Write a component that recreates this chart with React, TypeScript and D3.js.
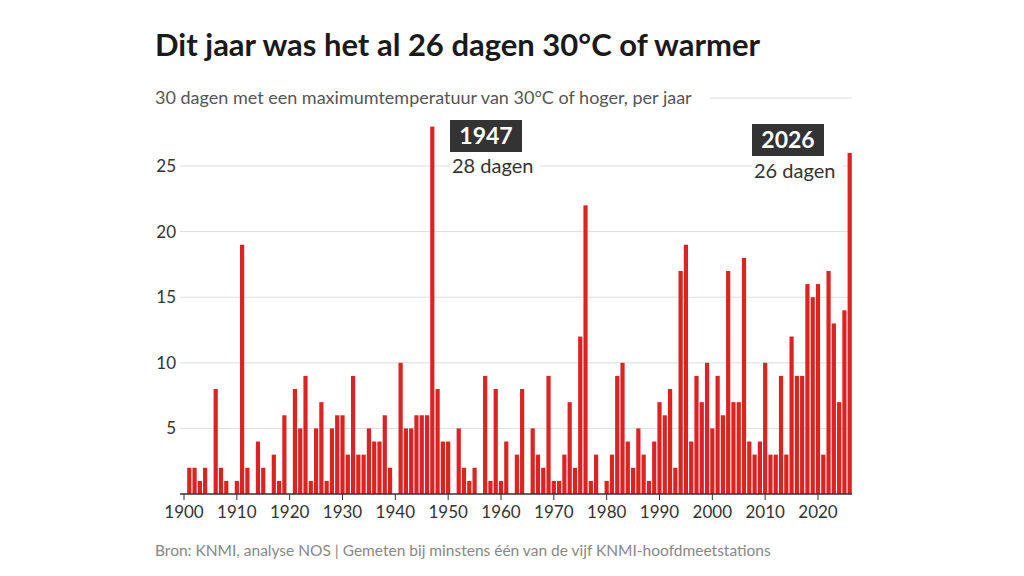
import React from 'react';
import * as d3 from 'd3';

const years = d3.range(1900, 2027);
const values = [
  0, 2, 2, 1, 2, 0, 8, 2, 1, 0,
  1, 19, 2, 0, 4, 2, 0, 3, 1, 6,
  0, 8, 5, 9, 1, 5, 7, 1, 5, 6,
  6, 3, 9, 3, 3, 5, 4, 4, 6, 2,
  0, 10, 5, 5, 6, 6, 6, 28, 8, 4,
  4, 0, 5, 2, 1, 2, 0, 9, 1, 8,
  1, 4, 0, 3, 8, 0, 5, 3, 2, 9,
  1, 1, 3, 7, 2, 12, 22, 1, 3, 0,
  1, 3, 9, 10, 4, 2, 5, 3, 1, 4,
  7, 6, 8, 2, 17, 19, 4, 9, 7, 10,
  5, 9, 6, 17, 7, 7, 18, 4, 3, 4,
  10, 3, 3, 9, 3, 12, 9, 9, 16, 15,
  16, 3, 17, 13, 7, 14, 26,
];
const yTicks = [5, 10, 15, 20, 25];
const xTicks = d3.range(1900, 2021, 10);

const font = 'Lato, "Open Sans", sans-serif';

const App: React.FC = () => {
  const x = d3.scaleLinear().domain([1900, 2020]).range([184, 818]);
  const y = d3.scaleLinear().domain([0, 25]).range([494, 166]);
  const bw = 4.2;

  return (
    <svg width={1024} height={576} style={{ position: 'absolute', left: 0, top: 0, background: '#fff' }} fontFamily={font}>
      <text x={155} y={56} fontSize={31} fontWeight={700} fill="#1a1a1a">Dit jaar was het al 26 dagen 30°C of warmer</text>
      <text x={155} y={104} fontSize={18} fill="#555">30 dagen met een maximumtemperatuur van 30°C of hoger, per jaar</text>
      <line x1={710} x2={852} y1={98} y2={98} stroke="#ddd" />
      {yTicks.map(t => (
        <g key={t}>
          <line x1={180} x2={852} y1={y(t)} y2={y(t)} stroke="#ddd" />
          <text x={176} y={y(t) + 6} fontSize={17} fill="#333" textAnchor="end">{t}</text>
        </g>
      ))}
      {years.map((yr, i) => values[i] > 0 && (
        <rect key={yr} x={x(yr) - bw / 2} width={bw} y={y(values[i])} height={y(0) - y(values[i])} fill="#dd2222" />
      ))}
      <line x1={180} x2={852} y1={494} y2={494} stroke="#333" strokeWidth={1.5} />
      {xTicks.map(t => (
        <g key={t}>
          <line x1={x(t)} x2={x(t)} y1={494} y2={500} stroke="#333" />
          <text x={x(t)} y={518} fontSize={17} fill="#333" textAnchor="middle">{t}</text>
        </g>
      ))}
      <rect x={450} y={120} width={72} height={32} fill="#333" />
      <text x={486} y={144} fontSize={23} fontWeight={700} fill="#fff" textAnchor="middle">1947</text>
      <rect x={450} y={154} width={90} height={24} fill="#fff" />
      <text x={452} y={173} fontSize={20} fill="#333">28 dagen</text>
      <rect x={752} y={124} width={72} height={32} fill="#333" />
      <text x={788} y={148} fontSize={23} fontWeight={700} fill="#fff" textAnchor="middle">2026</text>
      <rect x={752} y={159} width={90} height={24} fill="#fff" />
      <text x={754} y={178} fontSize={20} fill="#333">26 dagen</text>
      <text x={155} y={556} fontSize={15.5} fill="#888">Bron: KNMI, analyse NOS | Gemeten bij minstens één van de vijf KNMI-hoofdmeetstations</text>
    </svg>
  );
};

export default App;
